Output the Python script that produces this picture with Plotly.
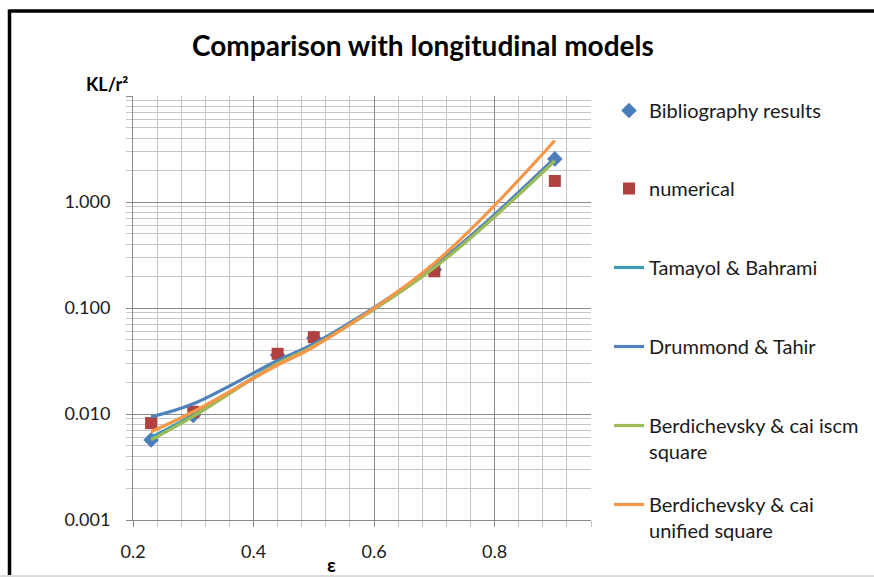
import plotly.graph_objects as go

# ---------------- data ----------------
eps = [0.23, 0.3, 0.44, 0.5, 0.7, 0.9]
bibliography = [0.0057, 0.0097, 0.036, 0.052, 0.23, 2.55]
numerical = [0.0082, 0.0105, 0.037, 0.053, 0.222, 1.58]
tamayol = [0.0060, 0.0098, 0.030, 0.044, 0.245, 2.5]
drummond = [0.0094, 0.0125, 0.032, 0.046, 0.25, 2.6]
berd_iscm = [0.0057, 0.0095, 0.030, 0.044, 0.24, 2.45]
berd_unified = [0.0068, 0.0105, 0.029, 0.043, 0.265, 3.8]

y_major = [0.001, 0.01, 0.1, 1, 10]
y_major_text = ["0.001", "0.010", "0.100", "1.000", ""]
y_minor = [m * d for d in [0.001, 0.01, 0.1, 1] for m in range(2, 10)]

title_text = "Comparison with longitudinal models"
y_title = "KL/r²"
x_title = "ε"

names = ["Bibliography results", "numerical", "Tamayol & Bahrami", "Drummond & Tahir",
         "Berdichevsky & cai iscm<br>square", "Berdichevsky & cai<br>unified square"]

# ---------------- layout geometry (pixels) ----------------
W, H = 874, 577
L, R, T, B = 133, 591, 96, 520


def px(x):
    return (x - L) / (R - L)


def py(y):
    return (B - y) / (B - T)


FONT = "Lato, Carlito, Calibri, sans-serif"

fig = go.Figure()

fig.add_trace(go.Scatter(x=eps, y=bibliography, mode="markers", name=names[0],
                         marker=dict(symbol="diamond", size=12, color="#4A7EBB"),
                         legend="legend"))
fig.add_trace(go.Scatter(x=eps, y=numerical, mode="markers", name=names[1],
                         marker=dict(symbol="square", size=12, color="#B0413E"),
                         legend="legend2"))
line_series = [
    (tamayol, "#3C9DB5", "legend3"),
    (drummond, "#4F81BD", "legend4"),
    (berd_iscm, "#9BBB59", "legend5"),
    (berd_unified, "#F79646", "legend6"),
]
for i, (vals, col, lg) in enumerate(line_series):
    fig.add_trace(go.Scatter(x=eps, y=vals, mode="lines", name=names[2 + i],
                             line=dict(color=col, width=3.2, shape="spline"),
                             legend=lg))

legend_centers = [111, 189, 268, 347, 426, 505]
leg_common = dict(font=dict(family=FONT, size=20, color="#1a1a1a"),
                  bgcolor="rgba(0,0,0,0)", valign="top", xanchor="left",
                  yanchor="top", itemwidth=30)
layout_legends = {}
for i, c in enumerate(legend_centers):
    key = "legend" if i == 0 else f"legend{i+1}"
    layout_legends[key] = dict(x=px(609), y=py(c - 20), **leg_common)

grid_minor = "#C6C6C6"
grid_major = "#8A8A8A"

fig.update_layout(
    width=W, height=H,
    margin=dict(l=L, r=W - R, t=T, b=H - B, autoexpand=False),
    paper_bgcolor="white", plot_bgcolor="white",
    showlegend=True,
    font=dict(family=FONT, color="#1a1a1a"),
    xaxis=dict(
        range=[0.2, 0.96], tick0=0.2, dtick=0.2,
        showgrid=True, gridcolor=grid_major, gridwidth=1,
        ticks="outside", ticklen=6, tickcolor=grid_major,
        showline=True, linecolor=grid_major, linewidth=1,
        zeroline=False,
        tickfont=dict(family=FONT, size=18, color="#1a1a1a"),
        ticklabelstandoff=9,
        minor=dict(tick0=0.2, dtick=0.04, showgrid=True, gridcolor=grid_minor,
                   ticks="outside", ticklen=6, tickcolor=grid_minor),
    ),
    yaxis=dict(
        type="log", range=[-3, 1],
        tickmode="array", tickvals=y_major, ticktext=y_major_text,
        showgrid=True, gridcolor=grid_major, gridwidth=1,
        ticks="outside", ticklen=6, tickcolor=grid_major,
        showline=True, linecolor=grid_major, linewidth=1,
        zeroline=False,
        tickfont=dict(family=FONT, size=18, color="#1a1a1a"),
        ticklabelstandoff=12,
        minor=dict(tickmode="array", tickvals=y_minor, showgrid=True,
                   gridcolor=grid_minor, ticks="outside", ticklen=6,
                   tickcolor=grid_minor),
    ),
    **layout_legends,
)

fig.update_layout(annotations=[
    dict(text="<b>" + title_text + "</b>", xref="paper", yref="paper",
         x=px(423), y=py(45), xanchor="center", yanchor="middle", showarrow=False,
         font=dict(family=FONT, size=28, color="#000000")),
    dict(text="<b>" + y_title + "</b>", xref="paper", yref="paper",
         x=px(84), y=py(84), xanchor="left", yanchor="middle", showarrow=False,
         font=dict(family=FONT, size=18, color="#000000")),
    dict(text="<b>" + x_title + "</b>", xref="paper", yref="paper",
         x=px(331), y=py(564), xanchor="center", yanchor="middle", showarrow=False,
         font=dict(family=FONT, size=19, color="#000000")),
])

fig.update_layout(shapes=[
    dict(type="line", xref="paper", yref="paper", x0=px(9.5), x1=px(900),
         y0=py(11), y1=py(11), line=dict(color="black", width=3.5)),
    dict(type="line", xref="paper", yref="paper", x0=px(9.5), x1=px(9.5),
         y0=py(9.5), y1=py(575), line=dict(color="black", width=3.5)),
    dict(type="line", xref="paper", yref="paper", x0=px(0), x1=px(874),
         y0=py(576), y1=py(576), line=dict(color="#CFCFCF", width=1.5)),
])

fig.write_html("out.html")
